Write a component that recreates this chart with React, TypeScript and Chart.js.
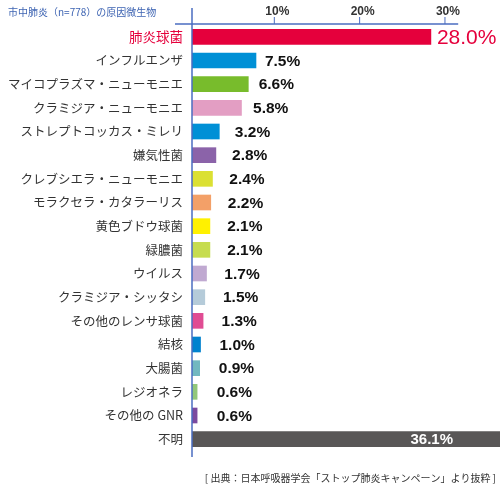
import React, { useEffect, useRef } from "react";
import { Chart, registerables } from "chart.js";

Chart.register(...registerables);

const categories = [
  "肺炎球菌",
  "インフルエンザ",
  "マイコプラズマ・ニューモニエ",
  "クラミジア・ニューモニエ",
  "ストレプトコッカス・ミレリ",
  "嫌気性菌",
  "クレブシエラ・ニューモニエ",
  "モラクセラ・カタラーリス",
  "黄色ブドウ球菌",
  "緑膿菌",
  "ウイルス",
  "クラミジア・シッタシ",
  "その他のレンサ球菌",
  "結核",
  "大腸菌",
  "レジオネラ",
  "その他の GNR",
  "不明",
];

const values = [28.0, 7.5, 6.6, 5.8, 3.2, 2.8, 2.4, 2.2, 2.1, 2.1, 1.7, 1.5, 1.3, 1.0, 0.9, 0.6, 0.6, 36.1];

const barColors = [
  "#e5003c",
  "#0090d6",
  "#78bc2c",
  "#e39ec3",
  "#0090d6",
  "#8b63a9",
  "#dbe033",
  "#f3a068",
  "#fff100",
  "#c6dc4f",
  "#c0a9d1",
  "#b5cbd9",
  "#e04c93",
  "#0082cf",
  "#72b8c0",
  "#92c77a",
  "#7b4a9f",
  "#595757",
];

const tickValues = [10, 20, 30];
const titleText = "市中肺炎（n=778）の原因微生物";
const sourceText = "[ 出典：日本呼吸器学会「ストップ肺炎キャンペーン」より抜粋 ]";

const AXIS_COLOR = "#4a6cc0";
const FONT = "'Noto Sans CJK JP', 'Noto Sans', sans-serif";
const NUM_FONT = "'Liberation Sans', Arial, sans-serif";

const overlayPlugin = {
  id: "overlay",
  afterDatasetsDraw(chart: any) {
    const { ctx, chartArea, scales } = chart;
    const xs = scales.x;
    const x0 = xs.getPixelForValue(0);
    ctx.save();
    // axis lines
    ctx.strokeStyle = AXIS_COLOR;
    ctx.lineWidth = 1.5;
    ctx.beginPath();
    ctx.moveTo(x0, 8);
    ctx.lineTo(x0, chartArea.bottom + 6);
    ctx.stroke();
    ctx.beginPath();
    ctx.moveTo(x0 - 17, chartArea.top - 1);
    ctx.lineTo(xs.getPixelForValue(31.2), chartArea.top - 1);
    ctx.stroke();
    // tick marks
    ctx.lineWidth = 1;
    tickValues.forEach((t) => {
      const px = xs.getPixelForValue(t);
      ctx.beginPath();
      ctx.moveTo(px - 3, chartArea.top - 8);
      ctx.lineTo(px - 3, chartArea.top - 1);
      ctx.stroke();
      ctx.fillStyle = "#333333";
      ctx.font = `bold 12px ${NUM_FONT}`;
      ctx.textAlign = "center";
      ctx.textBaseline = "middle";
      ctx.fillText(`${t}%`, px, 12);
    });
    // title
    ctx.fillStyle = "#3f65b3";
    ctx.font = `10px ${FONT}`;
    ctx.textAlign = "left";
    ctx.textBaseline = "middle";
    ctx.fillText(titleText, 8, 12);
    // source
    ctx.fillStyle = "#333333";
    ctx.font = `10px ${FONT}`;
    ctx.textAlign = "right";
    ctx.fillText(sourceText, 496, 478);
    // value labels
    const meta = chart.getDatasetMeta(0);
    meta.data.forEach((bar: any, i: number) => {
      const v = values[i];
      const y = bar.y;
      const label = `${v.toFixed(1)}%`;
      if (i === 0) {
        ctx.fillStyle = "#e5003c";
        ctx.font = `21px ${NUM_FONT}`;
        ctx.textAlign = "left";
        ctx.fillText(label, bar.x + 6, y + 1);
      } else if (i === values.length - 1) {
        ctx.fillStyle = "#ffffff";
        ctx.font = `bold 15px ${NUM_FONT}`;
        ctx.textAlign = "right";
        ctx.fillText(label, bar.x - 47, y + 1);
      } else {
        ctx.fillStyle = "#111111";
        ctx.font = `bold 15.5px ${NUM_FONT}`;
        ctx.textAlign = "left";
        ctx.fillText(label, xs.getPixelForValue(v * 0.82 + 2.4), y + 1);
      }
    });
    ctx.restore();
  },
};

export default function App() {
  const ref = useRef<HTMLCanvasElement | null>(null);
  useEffect(() => {
    document.body.style.margin = "0";
    if (!ref.current) return;
    const chart = new Chart(ref.current, {
      type: "bar",
      data: {
        labels: categories,
        datasets: [
          {
            data: values,
            backgroundColor: barColors,
            borderWidth: 0,
            barThickness: 15,
          },
        ],
      },
      options: {
        indexAxis: "y",
        animation: false,
        responsive: false,
        devicePixelRatio: 1,
        layout: { padding: { top: 0, bottom: 40, left: 0, right: 0 } },
        plugins: {
          legend: { display: false },
          tooltip: { enabled: false },
          title: { display: false },
        },
        scales: {
          x: {
            position: "top",
            min: 0,
            max: 36.1,
            grid: { display: false, drawTicks: false },
            border: { display: false },
            ticks: { display: false },
            afterFit(axis: any) {
              axis.height = 25;
            },
          },
          y: {
            grid: { display: false, drawTicks: false },
            border: { display: false },
            ticks: {
              padding: 9,
              color: (c: any) => (c.index === 0 ? "#e5003c" : "#333333"),
              font: (c: any) => ({
                family: FONT,
                size: c.index === 0 ? 13.5 : 12.5,
              }),
            },
            afterFit(axis: any) {
              axis.width = 192;
            },
          },
        },
      },
      plugins: [overlayPlugin],
    } as any);
    return () => chart.destroy();
  }, []);
  return (
    <div style={{ width: 500, height: 491 }}>
      <canvas ref={ref} width={500} height={491} style={{ display: "block" }} />
    </div>
  );
}
